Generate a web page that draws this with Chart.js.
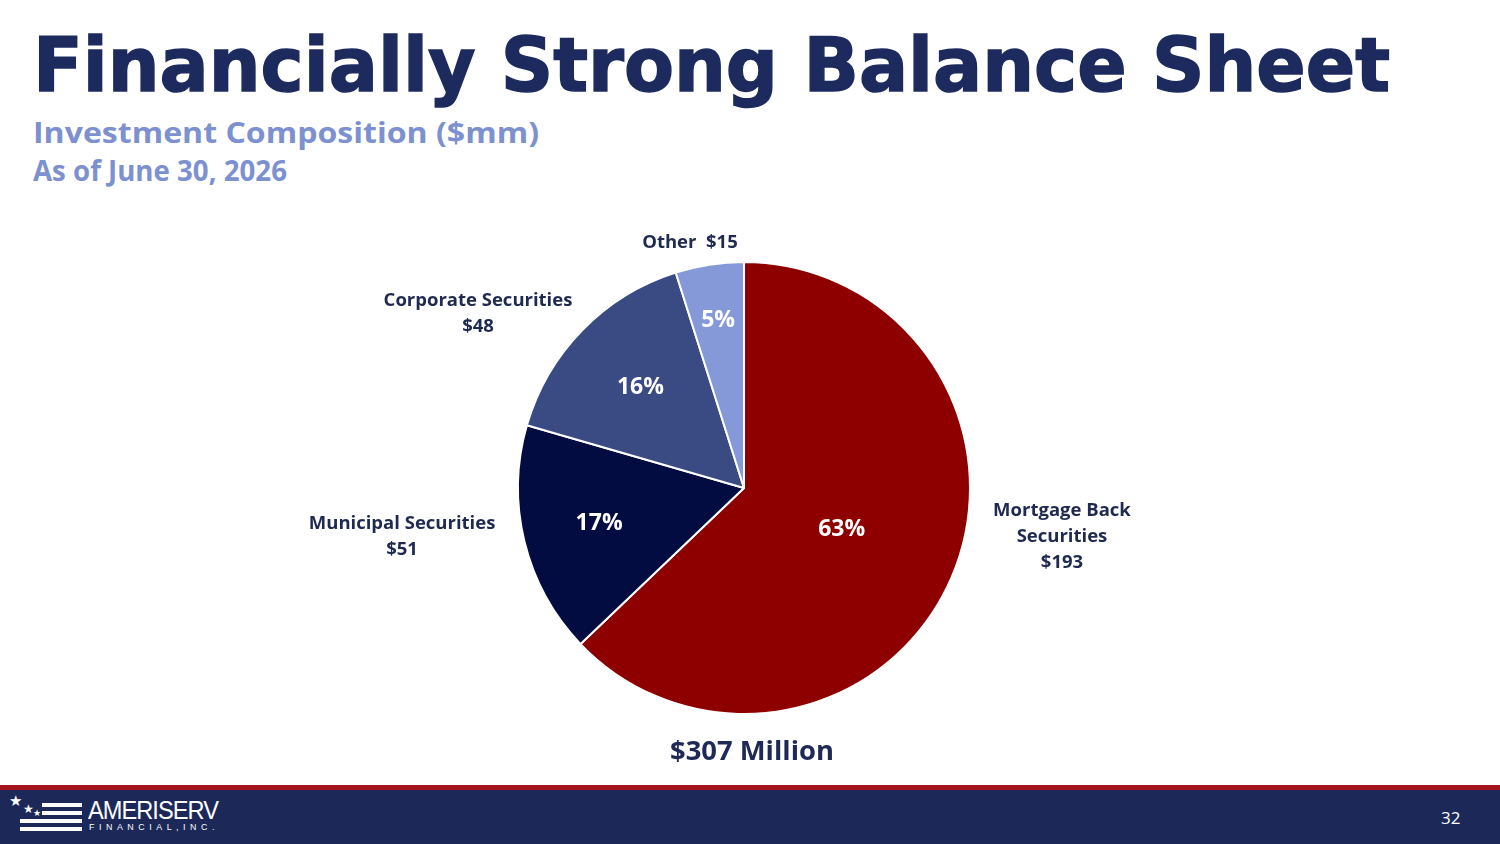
<!DOCTYPE html>
<html>
<head>
<meta charset="utf-8">
<script src="https://cdn.jsdelivr.net/npm/chart.js@4.4.1/dist/chart.umd.min.js"></script>
<style>
  html, body { margin: 0; padding: 0; background: #fff; }
  #slide { position: relative; width: 1500px; height: 844px; overflow: hidden; background: #fff; }
  .fit { position: absolute; white-space: nowrap; transform-origin: 0 0; line-height: 1; }
  #title { left: 33px; top: 28px; font-family: "DejaVu Sans"; font-weight: bold; font-size: 75px; color: #1c2a5e; -webkit-text-stroke: 1.5px #1c2a5e; }
  #sub1 { left: 33px; top: 117px; font-family: "Open Sans"; font-weight: bold; font-size: 29px; color: #7d90cf; }
  #sub2 { left: 33px; top: 155px; font-family: "Open Sans"; font-weight: bold; font-size: 29px; color: #7d90cf; }
  #total { left: 670px; top: 736px; font-family: "Open Sans"; font-weight: bold; font-size: 27px; color: #1e2a55; }
  #chartBox { position: absolute; left: 280px; top: 220px; width: 940px; height: 520px; }
  #redline { position: absolute; left: 0; top: 785px; width: 1500px; height: 6px; background: #a3141e; }
  #footer { position: absolute; left: 0; top: 790px; width: 1500px; height: 54px; background: #1c2857; }
  .stripe { position: absolute; height: 4px; background: #fff; }
  .star { position: absolute; color: #fff; font-family: "DejaVu Sans"; line-height: 1; }
  #logo1 { left: 88px; top: 798px; font-family: "Liberation Sans"; font-size: 25px; color: #fff; letter-spacing: -1px; }
  #logo2 { left: 89px; top: 823px; font-family: "Liberation Sans"; font-size: 9px; color: #fff; letter-spacing: 4.6px; }
  #pageno { position: absolute; left: 1441px; top: 806px; font-family: "Open Sans"; font-size: 17px; color: #fff; }
</style>
</head>
<body>
<div id="slide">
  <div id="title" class="fit" data-w="1357">Financially Strong Balance Sheet</div>
  <div id="sub1" class="fit" data-w="506">Investment Composition ($mm)</div>
  <div id="sub2" class="fit" data-w="254">As of June 30, 2026</div>
  <div id="chartBox"><canvas id="pieChart"></canvas></div>
  <div id="total" class="fit" data-w="164">$307 Million</div>
  <div id="redline"></div>
  <div id="footer"></div>
  <div class="star" style="left:9px;top:794px;font-size:15px;">★</div>
  <div class="star" style="left:23px;top:803px;font-size:12px;">★</div>
  <div class="star" style="left:33px;top:809px;font-size:9px;">★</div>
  <div class="stripe" style="left:42px;top:803px;width:40px;"></div>
  <div class="stripe" style="left:42px;top:811px;width:40px;"></div>
  <div class="stripe" style="left:20px;top:819px;width:62px;"></div>
  <div class="stripe" style="left:20px;top:827px;width:62px;"></div>
  <div id="logo1" class="fit" data-w="130">AMERISERV</div>
  <div id="logo2" class="fit" data-w="130">FINANCIAL,INC.</div>
  <div id="pageno">32</div>
</div>
<script>
// data
const categories = ['Mortgage Back Securities', 'Municipal Securities', 'Corporate Securities', 'Other'];
const values = [193, 51, 48, 15];
const sliceColors = ['#8e0000', '#030c40', '#3a4a82', '#8599d9'];
// how each category name is broken over lines in its callout
const calloutLines = [['Mortgage Back', 'Securities'], ['Municipal Securities'], ['Corporate Securities'], ['Other']];
const valueOnSameLine = [false, false, false, true];

// label placement, in units of the pie radius
const pctRadius = [0.47, 0.66, 0.64, 0.75];
const calloutPos = [[1.407, 0.215], [-1.513, 0.215], [-1.177, -0.77], [-0.239, -1.084]];

// stretch the html headings to the widths on the slide
document.querySelectorAll('.fit').forEach(function(el) {
    const w = el.getBoundingClientRect().width;
    el.style.transform = 'scaleX(' + (parseFloat(el.dataset.w) / w) + ')';
});

const sliceLabels = {
    id: 'sliceLabels',
    afterDatasetsDraw(chart) {
        const ctx = chart.ctx;
        const meta = chart.getDatasetMeta(0);
        const total = values.reduce((a, b) => a + b, 0);
        ctx.save();
        ctx.textAlign = 'center';
        ctx.textBaseline = 'middle';
        meta.data.forEach(function(arc, i) {
            const p = arc.getProps(['x', 'y', 'startAngle', 'endAngle', 'outerRadius'], true);
            const mid = (p.startAngle + p.endAngle) / 2;
            const d = p.outerRadius * pctRadius[i];

            // percentage inside the slice
            ctx.fillStyle = '#ffffff';
            ctx.font = 'bold 23px "Open Sans"';
            ctx.fillText(Math.round(values[i] / total * 100) + '%', p.x + Math.cos(mid) * d, p.y + Math.sin(mid) * d);

            // callout outside
            const lines = calloutLines[i].slice();
            if (valueOnSameLine[i]) {
                lines[lines.length - 1] += '  $' + values[i];
            } else {
                lines.push('$' + values[i]);
            }
            const lh = 26;
            const cx = p.x + p.outerRadius * calloutPos[i][0];
            const cy = p.y + p.outerRadius * calloutPos[i][1];
            ctx.fillStyle = '#1e2a4f';
            ctx.font = 'bold 18.5px "Open Sans"';
            lines.forEach(function(t, k) {
                ctx.fillText(t, cx, cy + (k - (lines.length - 1) / 2) * lh);
            });
        });
        ctx.restore();
    }
};

const ctx = document.getElementById('pieChart');
new Chart(ctx, {
    type: 'pie',
    data: {
        labels: categories,
        datasets: [{
            data: values,
            backgroundColor: sliceColors,
            borderColor: '#ffffff',
            borderWidth: 2,
            hoverOffset: 0
        }]
    },
    options: {
        responsive: true,
        maintainAspectRatio: false,
        animation: false,
        layout: {
            padding: { left: 237, right: 249, top: 41, bottom: 25 }
        },
        plugins: {
            legend: { display: false },
            tooltip: { enabled: false }
        }
    },
    plugins: [sliceLabels]
});
</script>
</body>
</html>
